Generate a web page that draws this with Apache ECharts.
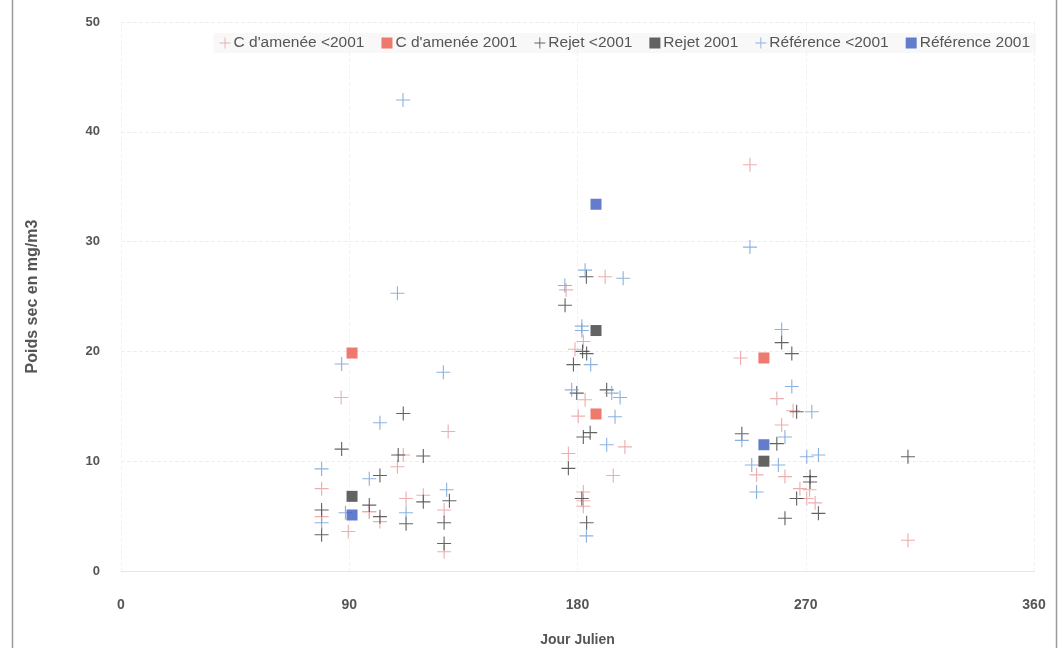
<!DOCTYPE html>
<html>
<head>
<meta charset="utf-8">
<script src="https://cdn.jsdelivr.net/npm/echarts@6/dist/echarts.min.js"></script>
<style>
  html, body { margin: 0; padding: 0; background: #fff; }
  #chart { width: 1062px; height: 648px; }
</style>
</head>
<body>
<div id="chart"></div>
<script>
// Dry weight (mg/m3) by Julian day, three stations, before and in 2001
const seriesNames = ["C d'amenée <2001", "C d'amenée 2001", "Rejet <2001", "Rejet 2001", "Référence <2001", "Référence 2001"];
const xTicks = [0, 90, 180, 270, 360];
const yTicks = [0, 10, 20, 30, 40, 50];

const amenee_before = [
  [86.8, 15.8], [109, 9.5], [111.3, 10.56], [79.1, 7.5], [112.4, 6.6], [119.2, 6.9],
  [97.9, 5.4], [79.1, 4.95], [89.6, 3.6], [102.1, 4.5], [97.9, 5.4], [127.4, 5.55],
  [127.4, 1.75], [129, 12.7],
  [190.9, 26.8], [175.5, 25.6], [182.3, 20.9], [179, 20.2], [183, 15.6], [180.3, 14.1],
  [198.7, 11.3], [176.4, 10.7], [194.1, 8.7], [182.3, 7.2], [182.3, 6.4], [182.3, 5.9],
  [248, 37.0], [244.3, 19.4], [258.6, 15.7], [265, 14.6], [260.5, 13.3], [250.6, 8.75],
  [261.8, 8.6], [267.7, 7.5], [271.5, 7.4], [270.4, 6.6], [273.7, 6.2],
  [310.3, 2.8]
];
const amenee_2001 = [[91.1, 19.85], [187.3, 14.3], [253.5, 19.4]];

const rejet_before = [
  [111.3, 14.35], [87, 11.1], [109.3, 10.56], [119.2, 10.47], [102.1, 8.7], [129.5, 6.4],
  [119.2, 6.3], [97.9, 6.0], [79.1, 5.55], [79.1, 3.3], [102.1, 4.95], [112.4, 4.3],
  [127.4, 4.4], [127.4, 2.5],
  [183.5, 26.8], [175.1, 24.2], [182, 20.0], [183.6, 19.8], [178.4, 18.8], [179.7, 16.2],
  [191.5, 16.5], [185, 12.6], [182.3, 12.2], [176.4, 9.35], [181.7, 6.6], [183.6, 4.4],
  [260.5, 20.8], [264.5, 19.8], [266.4, 14.5], [244.8, 12.5], [258.6, 11.6], [271.7, 8.6],
  [271.7, 8.1], [266.4, 6.6], [275, 5.25], [261.8, 4.8],
  [310.3, 10.4]
];
const rejet_2001 = [[91.1, 6.8], [187.3, 21.9], [253.5, 10.0]];

const reference_before = [
  [111.2, 42.9], [109, 25.3], [87, 18.85], [127.1, 18.1], [102.1, 13.5], [79.1, 9.3],
  [97.9, 8.4], [128.4, 7.4], [88.5, 5.3], [79.1, 4.4], [112.4, 5.3],
  [183, 27.4], [198, 26.66], [175, 26.0], [181.7, 22.3], [181.7, 21.9], [185.2, 18.8],
  [177.7, 16.5], [193.5, 16.2], [196.8, 15.8], [194.8, 14.05], [191.5, 11.5], [183.5, 3.2],
  [248, 29.5], [260.5, 22.0], [264.5, 16.8], [272.4, 14.5], [244.8, 11.9], [261.8, 12.2],
  [248.7, 9.65], [259.2, 9.65], [270.4, 10.4], [275, 10.56], [250.6, 7.2]
];
const reference_2001 = [[91.1, 5.1], [187.3, 33.4], [253.5, 11.5]];

// thin plus sign, filled so it renders as two hairlines
const CROSS = 'path://M-0.08,-1 L0.08,-1 L0.08,-0.08 L1,-0.08 L1,0.08 L0.08,0.08 L0.08,1 L-0.08,1 L-0.08,0.08 L-1,0.08 L-1,-0.08 L-0.08,-0.08 Z';

const colors = {
  ameneeCross: '#e79a9a', ameneeSquare: '#e8574b',
  rejetCross: '#3c3c3c', rejetSquare: '#3a3d3c',
  refCross: '#6f9fd8', refSquare: '#3c5cbf'
};

function crossSeries(name, data, color) {
  return {
    name, type: 'scatter', data, symbol: CROSS, symbolSize: 14,
    itemStyle: { color }, z: 2
  };
}
function squareSeries(name, data, color) {
  return {
    name, type: 'scatter', data, symbol: 'rect', symbolSize: 11,
    itemStyle: { color }, z: 3
  };
}

const chart = echarts.init(document.getElementById('chart'), null, { renderer: 'canvas' });
chart.setOption({
  backgroundColor: '#ffffff',
  animation: false,
  textStyle: { fontFamily: 'Liberation Sans, Arial, sans-serif' },
  graphic: [
    { type: 'line', shape: { x1: 12.5, y1: 0, x2: 12.5, y2: 648 }, style: { stroke: '#9a9a9a', lineWidth: 1.5 } },
    { type: 'line', shape: { x1: 1056.5, y1: 0, x2: 1056.5, y2: 648 }, style: { stroke: '#9a9a9a', lineWidth: 1.5 } }
  ],
  grid: { left: 121, right: 28, top: 22, bottom: 77, outerBoundsMode: 'none', containLabel: false },
  legend: {
    top: 33, right: 26,
    itemWidth: 11, itemHeight: 11, itemGap: 17,
    backgroundColor: 'rgba(243,243,243,0.55)',
    padding: [2, 6],
    textStyle: { color: '#555', fontSize: 15.5, padding: [0, 0, 0, -2] },
    data: seriesNames
  },
  xAxis: {
    type: 'value', min: 0, max: 360, interval: 90,
    name: 'Jour Julien', nameLocation: 'middle', nameGap: 62,
    nameTextStyle: { color: '#555', fontSize: 14, fontWeight: 'bold' },
    axisLine: { show: true, lineStyle: { color: '#e6e6e6' } },
    axisTick: { show: false },
    axisLabel: { color: '#555', fontSize: 14, fontWeight: 'bold', margin: 27,
      formatter: v => xTicks.includes(v) ? String(v) : '' },
    splitLine: { show: true, lineStyle: { color: '#f3f3f3', type: 'dashed' } }
  },
  yAxis: {
    type: 'value', min: 0, max: 50, interval: 10,
    name: 'Poids sec en mg/m3', nameLocation: 'middle', nameGap: 80, nameRotate: 90,
    nameTextStyle: { color: '#555', fontSize: 16, fontWeight: 'bold' },
    axisLine: { show: false },
    axisTick: { show: false },
    axisLabel: { color: '#555', fontSize: 13, fontWeight: 'bold', margin: 21,
      formatter: v => yTicks.includes(v) ? String(v) : '' },
    splitLine: { show: true, lineStyle: { color: '#eeeeee', type: 'dashed' } }
  },
  series: [
    crossSeries(seriesNames[0], amenee_before, colors.ameneeCross),
    squareSeries(seriesNames[1], amenee_2001, colors.ameneeSquare),
    crossSeries(seriesNames[2], rejet_before, colors.rejetCross),
    squareSeries(seriesNames[3], rejet_2001, colors.rejetSquare),
    crossSeries(seriesNames[4], reference_before, colors.refCross),
    squareSeries(seriesNames[5], reference_2001, colors.refSquare)
  ]
});
</script>
</body>
</html>
